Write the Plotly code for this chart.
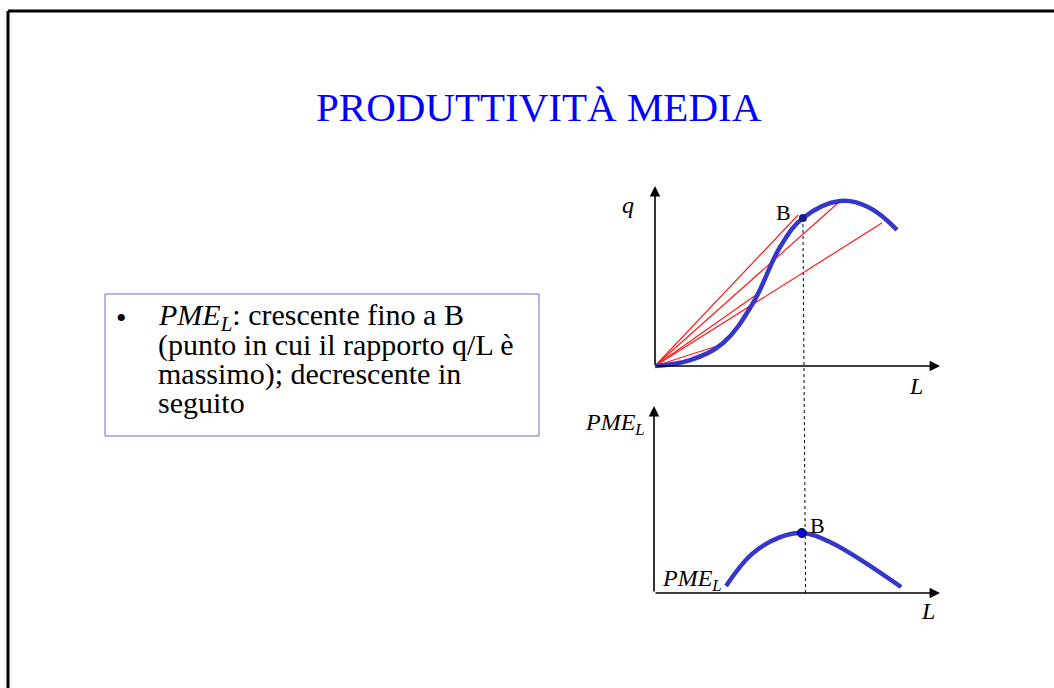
import plotly.graph_objects as go

W, H = 1054, 688

# ---- data (L, q) for the total product curve ----
q_L = [0.0, 1.23, 2.39, 3.44, 4.39, 5.19, 6.49, 7.54, 8.49]
q_val = [0.0, 0.33, 1.28, 3.5, 6.61, 8.22, 9.17, 8.78, 7.56]

# rays from the origin to points of the curve (end L, end q)
ray_L = [2.39, 3.54, 5.02, 6.46, 7.96]
ray_q = [1.22, 3.94, 8.39, 9.11, 7.94]

# point B on the product curve
B_top = (5.19, 8.22)

# ---- average product curve (L, PME_L) ----
pme_L = [2.52, 3.43, 4.41, 5.17, 6.15, 8.64]
pme_val = [0.37, 2.09, 2.99, 3.21, 2.73, 0.32]
B_bot = (5.17, 3.21)
drop_end_L = 5.3

AX_MAX = 10.0
AX_MIN = -1.0

# ---- text ----
title_text = "PRODUTTIVITÀ MEDIA"
bullet_lines = [
    "<i>PME<sub>L</sub></i>: crescente fino a B",
    "(punto in cui il rapporto q/L è",
    "massimo); decrescente in",
    "seguito",
]

SERIF = "Liberation Serif"
CURVE = "#3636c8"


def axis_geom(origin_px, tip_px, horizontal):
    """Domain (paper) and range for an axis whose 0 sits at origin_px and
    whose AX_MAX sits at tip_px."""
    if horizontal:
        scale = (tip_px - origin_px) / AX_MAX
        start = origin_px + AX_MIN * scale
        return [start / W, tip_px / W], [AX_MIN, AX_MAX]
    scale = (origin_px - tip_px) / AX_MAX
    start = origin_px - AX_MIN * scale
    return [1 - start / H, 1 - tip_px / H], [AX_MIN, AX_MAX]


x1_dom, x1_rng = axis_geom(655, 940, True)
y1_dom, y1_rng = axis_geom(366, 186, False)
x2_dom, x2_rng = axis_geom(654, 940, True)
y2_dom, y2_rng = axis_geom(593, 406, False)


def to_paper(x, y, xd, xr, yd, yr):
    px = xd[0] + (x - xr[0]) / (xr[1] - xr[0]) * (xd[1] - xd[0])
    py = yd[0] + (y - yr[0]) / (yr[1] - yr[0]) * (yd[1] - yd[0])
    return px, py


fig = go.Figure()

# rays q/L
for Le, qe in zip(ray_L, ray_q):
    fig.add_trace(go.Scatter(x=[0, Le], y=[0, qe], mode="lines",
                             line=dict(color="#ff1a1a", width=1.2),
                             xaxis="x", yaxis="y", hoverinfo="skip"))

# total product curve
fig.add_trace(go.Scatter(x=q_L, y=q_val, mode="lines",
                         line=dict(color=CURVE, width=4.5, shape="spline", smoothing=1.1),
                         xaxis="x", yaxis="y", hoverinfo="skip"))
fig.add_trace(go.Scatter(x=[B_top[0]], y=[B_top[1]], mode="markers",
                         marker=dict(color="#1a1a90", size=8),
                         xaxis="x", yaxis="y", hoverinfo="skip"))

# average product curve
fig.add_trace(go.Scatter(x=pme_L, y=pme_val, mode="lines",
                         line=dict(color=CURVE, width=4.5, shape="spline", smoothing=1.1),
                         xaxis="x2", yaxis="y2", hoverinfo="skip"))
fig.add_trace(go.Scatter(x=[B_bot[0]], y=[B_bot[1]], mode="markers",
                         marker=dict(color="#0000f0", size=9, line=dict(color="black", width=1)),
                         xaxis="x2", yaxis="y2", hoverinfo="skip"))

hidden = dict(visible=False, showgrid=False, zeroline=False, fixedrange=True)

shapes = []
# slide frame (top and left edges)
shapes.append(dict(type="line", xref="paper", yref="paper", x0=8 / W, x1=1.0,
                   y0=1 - 11 / H, y1=1 - 11 / H, line=dict(color="black", width=3)))
shapes.append(dict(type="line", xref="paper", yref="paper", x0=8 / W, x1=8 / W,
                   y0=1 - 11 / H, y1=0, line=dict(color="black", width=3)))
# text box
shapes.append(dict(type="rect", xref="paper", yref="paper", x0=105 / W, x1=539 / W,
                   y0=1 - 436 / H, y1=1 - 294 / H, line=dict(color="#6a6ad8", width=1)))
# dashed drop line from B to the L axis of the lower panel
bx0, by0 = to_paper(B_top[0], B_top[1], x1_dom, x1_rng, y1_dom, y1_rng)
bx1, by1 = to_paper(drop_end_L, 0, x2_dom, x2_rng, y2_dom, y2_rng)
shapes.append(dict(type="line", xref="paper", yref="paper", x0=bx0, y0=by0, x1=bx1, y1=by1,
                   line=dict(color="black", width=1, dash="3px,3px"), layer="below"))

annotations = []


def arrow(xref, yref, x, y):
    annotations.append(dict(x=x, y=y, ax=0, ay=0, xref=xref, yref=yref,
                            axref=xref, ayref=yref, showarrow=True, arrowhead=2,
                            arrowsize=1.3, arrowwidth=1.6, arrowcolor="black", text=""))


arrow("x", "y", AX_MAX, 0)
arrow("x", "y", 0, AX_MAX)
arrow("x2", "y2", AX_MAX, 0)
arrow("x2", "y2", 0, AX_MAX)


def label(text, px, py, size=24, anchor="center", color="black"):
    annotations.append(dict(text=text, x=px / W, y=1 - py / H, xref="paper", yref="paper",
                            showarrow=False, xanchor=anchor, yanchor="middle",
                            font=dict(family=SERIF, size=size, color=color)))


label(title_text, 539, 107, size=41, color="#0000ff")
label("<i>q</i>", 628, 205)
label("<i>L</i>", 916, 386)
label("<i>PME<sub>L</sub></i>", 615, 424)
label("<i>PME<sub>L</sub></i>", 692, 580)
label("<i>L</i>", 928, 611)
label("B", 783, 212, size=22)
label("B", 817, 525, size=22)

# bullet text
label("•", 121, 317, size=30)
for i, line in enumerate(bullet_lines):
    label(line, 156, 317 + i * 28.5, size=30, anchor="left")

fig.update_layout(
    width=W, height=H,
    margin=dict(l=0, r=0, t=0, b=0),
    paper_bgcolor="white", plot_bgcolor="rgba(0,0,0,0)",
    showlegend=False,
    xaxis=dict(domain=x1_dom, range=x1_rng, anchor="y", **hidden),
    yaxis=dict(domain=y1_dom, range=y1_rng, anchor="x", **hidden),
    xaxis2=dict(domain=x2_dom, range=x2_rng, anchor="y2", **hidden),
    yaxis2=dict(domain=y2_dom, range=y2_rng, anchor="x2", **hidden),
    shapes=shapes,
    annotations=annotations,
)

fig.write_html("out.html", config={"displayModeBar": False})
